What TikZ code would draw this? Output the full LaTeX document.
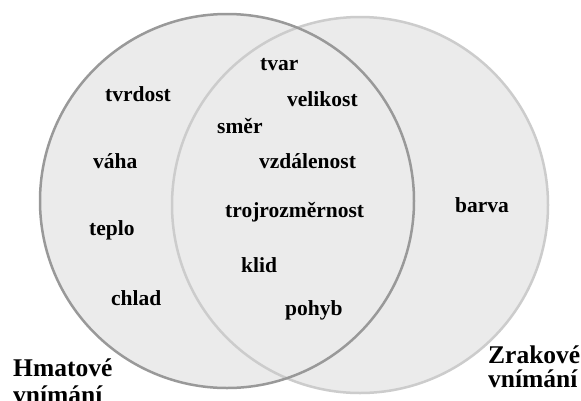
\documentclass[tikz,border=0pt]{standalone}
\usepackage{fontspec}
\setmainfont{Liberation Serif}
\definecolor{fillgray}{HTML}{EBEBEB}
\definecolor{leftedge}{HTML}{999999}
\definecolor{rightedge}{HTML}{CCCCCC}
\tikzset{
  lbl/.style={anchor=base west, inner sep=0pt, font=\fontsize{21.5}{24}\selectfont\bfseries},
  head/.style={anchor=base west, inner sep=0pt, font=\fontsize{25.5}{24}\selectfont\bfseries},
  setcircle/.style={circle, inner sep=0pt, fill=fillgray}
}
\begin{document}
\begin{tikzpicture}[x=1pt,y=-1pt]
\useasboundingbox (0,0) rectangle (581,400);
\fill[white] (0,0) rectangle (581,400);
% circles
\node[setcircle, minimum size=376pt] (R) at (360,205) {};
\node[setcircle, minimum size=374pt] (L) at (227,201) {};
\draw[rightedge, line width=2.5pt] (R.center) circle[radius=188pt];
\draw[leftedge, line width=2.5pt] (L.center) circle[radius=187pt];
% labels
\node[lbl] (tvar) at (260,70) {tvar};
\node[lbl] (velikost) at (287,106.5) {velikost};
\node[lbl] (tvrdost) at (105,101.5) {tvrdost};
\node[lbl] (smer) at (217,133) {směr};
\node[lbl] (vaha) at (93,168) {váha};
\node[lbl] (vzdalenost) at (259,168) {vzdálenost};
\node[lbl] (trojrozmernost) at (225,217) {trojrozměrnost};
\node[lbl] (teplo) at (89,235) {teplo};
\node[lbl] (klid) at (241,272) {klid};
\node[lbl] (chlad) at (111,305) {chlad};
\node[lbl] (pohyb) at (285,315) {pohyb};
\node[lbl] (barva) at (455,212) {barva};
% headings
\node[head] (hmat1) at (13,376) {Hmatové};
\node[head] (hmat2) at (13,403) {vnímání};
\node[head] (zrak1) at (488,363) {Zrakové};
\node[head] (zrak2) at (488,387) {vnímání};
\end{tikzpicture}
\end{document}
